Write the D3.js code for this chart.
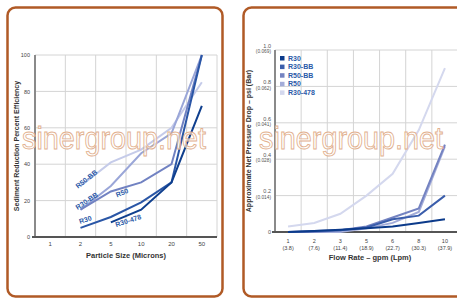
<!DOCTYPE html>
<html>
<head>
<meta charset="utf-8">
<script src="https://cdn.jsdelivr.net/npm/d3@7"></script>
<style>
  body { margin: 0; background: #fff; }
  svg text { font-family: "Liberation Sans", Arial, sans-serif; }
</style>
</head>
<body>
<div id="chart"></div>
<script>
var width = 457;
var height = 300;

// left chart: sediment reduction
var sizeCats = ["1", "2", "5", "10", "20", "50"];
var effTicks = [0, 20, 40, 60, 80, 100];
var effR30 = [null, 5, 11, 19, 30, 100];
var effR30_478 = [null, null, 8, 15, 30, 72];
var effR50 = [null, 15, 25, 30, 40, 100];
var effR30BB = [null, 15, 28, 46, 57, 100];
var effR50BB = [null, 28, 41, 48, 60, 85];

// right chart: pressure drop
var flowCats = ["1", "2", "3", "5", "6", "8", "10"];
var flowLpm = ["(3.8)", "(7.6)", "(11.4)", "(18.9)", "(22.7)", "(30.3)", "(37.9)"];
var psiTicks = [0, 0.2, 0.4, 0.6, 0.8, 1.0];
var barTicks = ["", "(0.014)", "(0.028)", "(0.041)", "(0.062)", "(0.069)"];
var psR30 = [0, 0.005, 0.012, 0.02, 0.03, 0.05, 0.07];
var psR30BB = [0, 0.005, 0.01, 0.025, 0.07, 0.09, 0.2];
var psR50BB = [0, 0, 0.01, 0.03, 0.08, 0.13, 0.48];
var psR50 = [0, 0, 0, 0.02, 0.05, 0.11, 0.47];
var psR30_478 = [0.03, 0.05, 0.1, 0.2, 0.32, 0.56, 0.9];

var legendNames = ["R30", "R30-BB", "R50-BB", "R50", "R30-478"];
var legendColors = ["#0b3a8a", "#3a5dab", "#7483c1", "#a3acd9", "#d4d8ee"];

var svg = d3.select("#chart")
  .append("svg")
  .attr("width", width)
  .attr("height", height);

// panels
svg.append("rect")
  .attr("x", 7.5).attr("y", 7.5)
  .attr("width", 215).attr("height", 289)
  .attr("rx", 8)
  .attr("fill", "#fff").attr("stroke", "#b05a26").attr("stroke-width", 2.5);
svg.append("rect")
  .attr("x", 243.5).attr("y", 7.5)
  .attr("width", 240).attr("height", 289)
  .attr("rx", 8)
  .attr("fill", "#fff").attr("stroke", "#b05a26").attr("stroke-width", 2.5);

function drawGrid(g, xScale, yScale, ticks) {
  var xr = xScale.range();
  var yr = yScale.range();
  var bounds = xScale.domain().map(function(d) { return xScale(d); }).concat([xr[1]]);
  g.selectAll(".vgrid")
    .data(bounds)
    .enter()
    .append("line")
      .attr("x1", function(d) { return d; })
      .attr("x2", function(d) { return d; })
      .attr("y1", yr[0]).attr("y2", yr[1])
      .attr("stroke", "#d4d4d4").attr("stroke-width", 1);
  g.selectAll(".hgrid")
    .data(ticks.slice(1))
    .enter()
    .append("line")
      .attr("x1", xr[0]).attr("x2", xr[1])
      .attr("y1", function(d) { return yScale(d); })
      .attr("y2", function(d) { return yScale(d); })
      .attr("stroke", "#d4d4d4").attr("stroke-width", 1);
  // axis lines
  g.append("line")
    .attr("x1", xr[0]).attr("x2", xr[0])
    .attr("y1", yr[0]).attr("y2", yr[1])
    .attr("stroke", "#8a8a8a").attr("stroke-width", 2);
  g.append("line")
    .attr("x1", xr[0] - 3).attr("x2", xr[1])
    .attr("y1", yr[0]).attr("y2", yr[0])
    .attr("stroke", "#555").attr("stroke-width", 1.8);
}

// ---------- left chart ----------
var left = svg.append("g");
var xL = d3.scaleBand().domain(sizeCats).range([35, 217]);
var yL = d3.scaleLinear().domain([0, 100]).range([237, 55]);

drawGrid(left, xL, yL, effTicks);

left.append("g")
  .attr("transform", "translate(0,237)")
  .call(d3.axisBottom(xL).tickSize(0).tickPadding(5))
  .call(function(g) {
    g.select(".domain").remove();
    g.selectAll("text").attr("font-size", 6).attr("fill", "#444");
  });

left.append("g")
  .attr("transform", "translate(32,0)")
  .call(d3.axisLeft(yL).tickValues(effTicks).tickSize(0).tickPadding(2))
  .call(function(g) {
    g.select(".domain").remove();
    g.selectAll("text").attr("font-size", 5.5).attr("fill", "#444");
  });

var lineL = d3.line()
  .defined(function(d) { return d.v !== null; })
  .x(function(d) { return xL(d.c) + xL.bandwidth() / 2; })
  .y(function(d) { return yL(d.v); });

var leftSeries = [
  {name: "R50-BB", values: effR50BB, color: "#c5cbe9"},
  {name: "R30-BB", values: effR30BB, color: "#9aa6d8"},
  {name: "R50", values: effR50, color: "#7182c2"},
  {name: "R30", values: effR30, color: "#2a56a6"},
  {name: "R30-478", values: effR30_478, color: "#0f3f8e"}
];

left.selectAll(".series")
  .data(leftSeries)
  .enter()
  .append("path")
    .attr("d", function(s) {
      return lineL(s.values.map(function(v, i) { return {c: sizeCats[i], v: v}; }));
    })
    .attr("fill", "none")
    .attr("stroke", function(s) { return s.color; })
    .attr("stroke-width", 2);

var leftLabels = [
  {text: "R50-BB", x: 88, y: 181, a: -38},
  {text: "R30-BB", x: 88, y: 203, a: -33},
  {text: "R50", x: 123, y: 195, a: -22},
  {text: "R30", x: 86, y: 222, a: -18},
  {text: "R30-478", x: 129, y: 223, a: -18}
];
left.selectAll(".lbl")
  .data(leftLabels)
  .enter()
  .append("text")
    .attr("transform", function(d) { return "translate(" + d.x + "," + d.y + ") rotate(" + d.a + ")"; })
    .attr("text-anchor", "middle")
    .attr("font-size", 7)
    .attr("font-weight", "bold")
    .attr("fill", "#2c5aa8")
    .text(function(d) { return d.text; });

left.append("text")
  .attr("x", 126).attr("y", 258)
  .attr("text-anchor", "middle")
  .attr("font-size", 7.5).attr("font-weight", "bold").attr("fill", "#333")
  .text("Particle Size (Microns)");

left.append("text")
  .attr("transform", "translate(19,146) rotate(-90)")
  .attr("text-anchor", "middle")
  .attr("font-size", 7).attr("font-weight", "bold").attr("fill", "#333")
  .text("Sediment Reduction Percent Efficiency");

// ---------- right chart ----------
var right = svg.append("g");
var xR = d3.scaleBand().domain(flowCats).range([275, 458]);
var yR = d3.scaleLinear().domain([0, 1]).range([232, 50]);

drawGrid(right, xR, yR, psiTicks);

right.append("g")
  .attr("transform", "translate(0,232)")
  .call(d3.axisBottom(xR).tickSize(0).tickPadding(7))
  .call(function(g) {
    g.select(".domain").remove();
    g.selectAll("text")
      .attr("font-size", 5.5).attr("fill", "#444")
      .each(function(d, i) {
        var t = d3.select(this);
        t.text(null);
        t.append("tspan").attr("x", 0).text(d);
        t.append("tspan").attr("x", 0).attr("dy", "1.25em").text(flowLpm[i]);
      });
  });

right.append("g")
  .attr("transform", "translate(272,0)")
  .call(d3.axisLeft(yR).tickValues(psiTicks).tickSize(0).tickPadding(1).tickFormat(d3.format(".1f")))
  .call(function(g) {
    g.select(".domain").remove();
    g.selectAll("text")
      .attr("font-size", 5.5).attr("fill", "#555")
      .each(function(d, i) {
        var t = d3.select(this);
        t.text(null);
        if (i === 0) {
          t.append("tspan").attr("x", -1).text("0");
        } else {
          t.append("tspan").attr("x", -1).attr("dy", "-0.5em").text(d3.format(".1f")(d));
          t.append("tspan").attr("x", -1).attr("dy", "1.15em").attr("font-size", 4.8).text(barTicks[i]);
        }
      });
  });

var lineR = d3.line()
  .x(function(d) { return xR(d.c) + xR.bandwidth() / 2; })
  .y(function(d) { return yR(d.v); });

var rightSeries = [
  {name: "R30-478", values: psR30_478, color: legendColors[4]},
  {name: "R50", values: psR50, color: legendColors[3]},
  {name: "R50-BB", values: psR50BB, color: legendColors[2]},
  {name: "R30-BB", values: psR30BB, color: legendColors[1]},
  {name: "R30", values: psR30, color: legendColors[0]}
];

right.selectAll(".series")
  .data(rightSeries)
  .enter()
  .append("path")
    .attr("d", function(s) {
      return lineR(s.values.map(function(v, i) { return {c: flowCats[i], v: v}; }));
    })
    .attr("fill", "none")
    .attr("stroke", function(s) { return s.color; })
    .attr("stroke-width", 2);

var legend = right.selectAll(".leg")
  .data(legendNames)
  .enter()
  .append("g")
    .attr("transform", function(d, i) { return "translate(280," + (56 + i * 8.6) + ")"; });
legend.append("rect")
  .attr("width", 4.5).attr("height", 4.5)
  .attr("fill", function(d, i) { return legendColors[i]; });
legend.append("text")
  .attr("x", 8).attr("y", 4.5)
  .attr("font-size", 7).attr("font-weight", "bold").attr("fill", "#2c5aa8")
  .text(function(d) { return d; });

right.append("text")
  .attr("x", 370).attr("y", 260)
  .attr("text-anchor", "middle")
  .attr("font-size", 7.5).attr("font-weight", "bold").attr("fill", "#333")
  .text("Flow Rate \u2013 gpm (Lpm)");

right.append("text")
  .attr("transform", "translate(251,141) rotate(-90)")
  .attr("text-anchor", "middle")
  .attr("font-size", 7).attr("font-weight", "bold").attr("fill", "#333")
  .text("Approximate Net Pressure Drop \u2013 psi (Bar)");

// watermark
svg.selectAll(".wm")
  .data([{x: 22, len: 184}, {x: 259, len: 184}])
  .enter()
  .append("text")
    .attr("x", function(d) { return d.x; })
    .attr("y", 149)
    .attr("textLength", function(d) { return d.len; })
    .attr("lengthAdjust", "spacingAndGlyphs")
    .attr("font-size", 31)
    .attr("fill", "rgba(255,255,255,0.6)")
    .attr("stroke", "#e2b08e")
    .attr("stroke-width", 0.9)
    .text("sinergroup.net");
</script>
</body>
</html>
